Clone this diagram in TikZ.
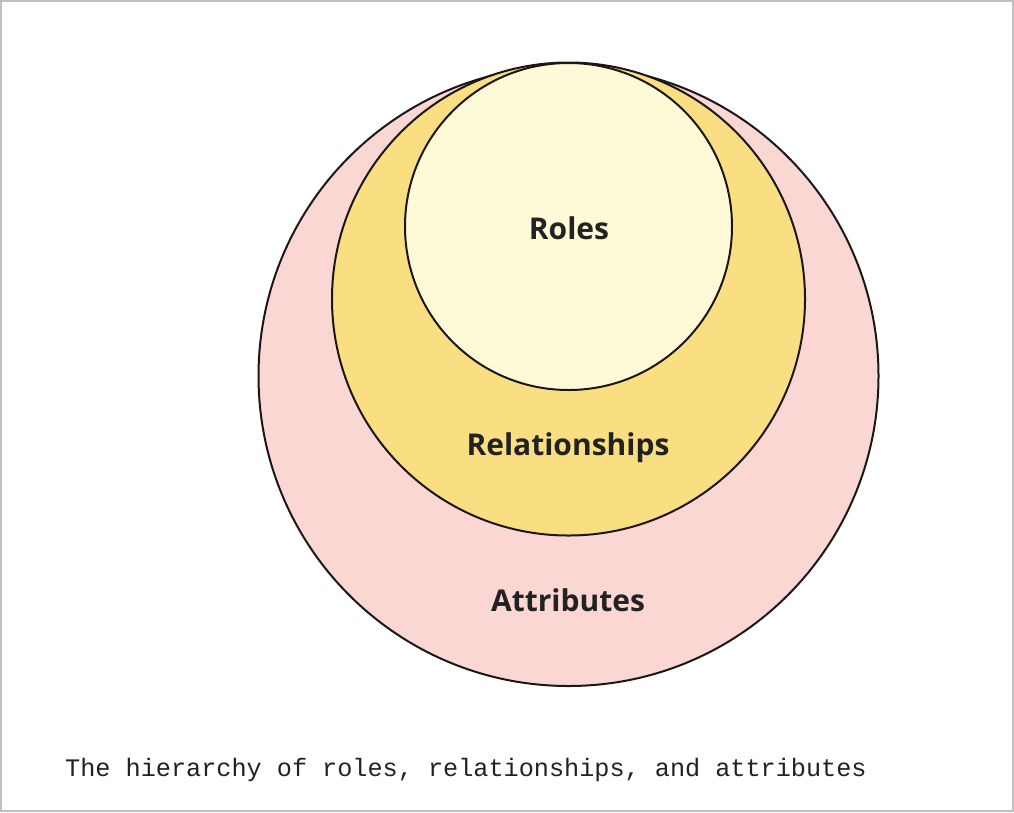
\documentclass[tikz,border=0pt]{standalone}
\usepackage{fontspec}
\setmainfont{Open Sans}
\newfontfamily\capfont{Liberation Mono}
\definecolor{outerfill}{HTML}{FAD7D3}
\definecolor{midfill}{HTML}{F9DF82}
\definecolor{innerfill}{HTML}{FEFAD7}
\definecolor{strokec}{HTML}{1C1618}
\definecolor{framec}{HTML}{C0C0C0}
\definecolor{textc}{HTML}{222222}
\begin{document}
\begin{tikzpicture}[x=1pt,y=-1pt,
  ring/.style={draw=strokec,line width=2pt},
  lbl/.style={font=\fontsize{30}{34}\selectfont\bfseries,text=textc,inner sep=0pt}]
\useasboundingbox (0,0) rectangle (1014,812);
\draw[framec,line width=2pt] (1,1) rectangle (1013,811);
\node[ring,circle,fill=outerfill,minimum size=620pt,inner sep=0pt] (attr) at (568.5,376) {};
\node[ring,circle,fill=midfill,minimum size=473pt,inner sep=0pt] (rel) at (568.5,299) {};
\node[ring,circle,fill=innerfill,minimum size=327pt,inner sep=0pt] (roles) at (568.5,226.5) {};
\node[lbl] (tRoles) at (569,228) {Roles};
\node[lbl] (tRel) at (568,448) {Relationships};
\node[lbl] (tAttr) at (568,600) {Attributes};
\node[anchor=base west,inner sep=0pt,text=textc,font=\capfont\fontsize{25.2}{28}\selectfont] (cap) at (65,776) {The hierarchy of roles, relationships, and attributes};
\end{tikzpicture}
\end{document}
